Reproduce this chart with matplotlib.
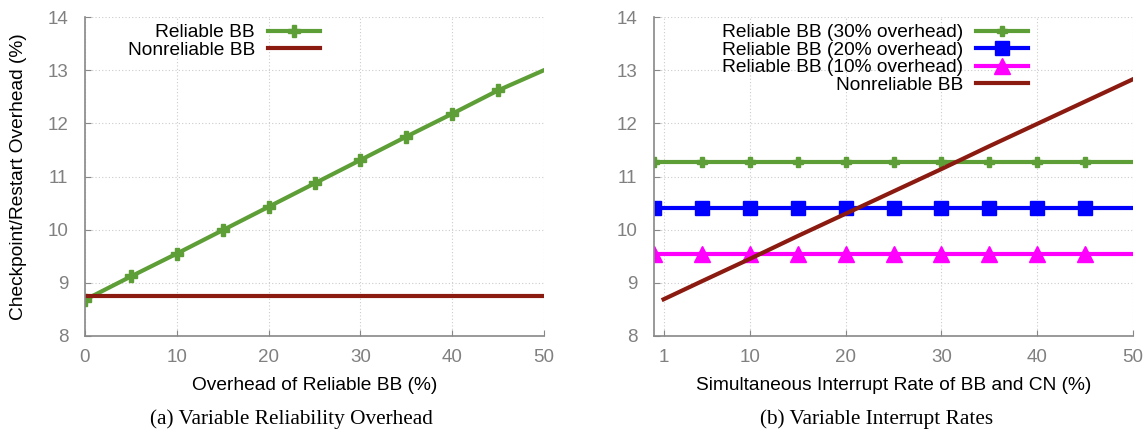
import matplotlib
matplotlib.use('Agg')
import matplotlib.pyplot as plt

plt.rcParams['font.family'] = ['Liberation Sans', 'DejaVu Sans']

# (a) variable reliability overhead
x_a = [0, 5, 10, 15, 20, 25, 30, 35, 40, 45, 50]
rel_a = [8.68, 9.12, 9.55, 9.99, 10.43, 10.87, 11.31, 11.75, 12.18, 12.62, 13.00]
nonrel_a = [8.76] * 11

# (b) variable interrupt rates
x_b = [0, 5, 10, 15, 20, 25, 30, 35, 40, 45, 50]
rel30_b = [11.27] * 11
rel20_b = [10.41] * 11
rel10_b = [9.55] * 11
x_nonrel_b = [1, 5, 10, 15, 20, 25, 30, 35, 40, 45, 50]
nonrel_b = [8.69, 9.03, 9.45, 9.88, 10.30, 10.72, 11.14, 11.57, 11.99, 12.41, 12.83]

GREEN = '#5e9e36'
DARKRED = '#8b1a10'
GRAY = '#888888'
FS = 13.5
LFS = 13.8

fig = plt.figure(figsize=(11.48, 4.32), dpi=100)
ax1 = fig.add_axes([85/1148, 1-336/432, 459/1148, 319/432])
ax2 = fig.add_axes([654/1148, 1-336/432, 479/1148, 319/432])

ax1.plot(x_a, rel_a, color=GREEN, lw=3, marker='P', ms=8, markevery=slice(0, -1), label='Reliable BB')
ax1.plot(x_a, nonrel_a, color=DARKRED, lw=3, label='Nonreliable BB')
ax1.set_xticks([0, 10, 20, 30, 40, 50])

ax2.plot(x_b, rel30_b, color=GREEN, lw=3, marker='P', ms=7, markevery=slice(0, -1), label='Reliable BB (30% overhead)')
ax2.plot(x_b, rel20_b, color='#0000ff', lw=3, marker='s', ms=10, markevery=slice(0, -1), label='Reliable BB (20% overhead)')
ax2.plot(x_b, rel10_b, color='#ff00ff', lw=3, marker='^', ms=11, markevery=slice(0, -1), label='Reliable BB (10% overhead)')
ax2.plot(x_nonrel_b, nonrel_b, color=DARKRED, lw=3, label='Nonreliable BB')
ax2.set_xticks([1, 10, 20, 30, 40, 50])

for ax in (ax1, ax2):
    ax.set_xlim(0, 50)
    ax.set_ylim(8, 14)
    ax.set_yticks([8, 9, 10, 11, 12, 13, 14])
    ax.grid(True, linestyle=(0, (1, 2)), color='#cccccc', lw=0.8)
    ax.set_axisbelow(True)
    for s in ('top', 'right'):
        ax.spines[s].set_visible(False)
    for s in ('left', 'bottom'):
        ax.spines[s].set_color(GRAY)
        ax.spines[s].set_linewidth(1.2)
    ax.tick_params(direction='in', length=4, color=GRAY, labelcolor='#808080', labelsize=FS)
    ax.tick_params(axis='y', pad=12)
    ax.tick_params(axis='x', pad=9)

ax1.set_xlabel('Overhead of Reliable BB (%)', fontsize=LFS, labelpad=8)
ax1.set_ylabel('Checkpoint/Restart Overhead (%)', fontsize=LFS, labelpad=15)
ax2.set_xlabel('Simultaneous Interrupt Rate of BB and CN (%)', fontsize=LFS, labelpad=8)

leg_kw = dict(frameon=False, markerfirst=False, fontsize=LFS, borderpad=0, borderaxespad=0,
              labelspacing=0.0, handlelength=2.7, handletextpad=0.7, loc='upper right')
ax1.legend(bbox_to_anchor=((320-85)/459, (336-24)/319), **leg_kw)
ax2.legend(bbox_to_anchor=((1028-654)/479, (336-24)/319), **leg_kw)

fig.text(291/1148, 1-419/432, '(a) Variable Reliability Overhead', ha='center', va='center',
         fontsize=15.3, family='Liberation Serif')
fig.text(877/1148, 1-419/432, '(b) Variable Interrupt Rates', ha='center', va='center',
         fontsize=15.3, family='Liberation Serif')

fig.savefig('out.png', dpi=100)
